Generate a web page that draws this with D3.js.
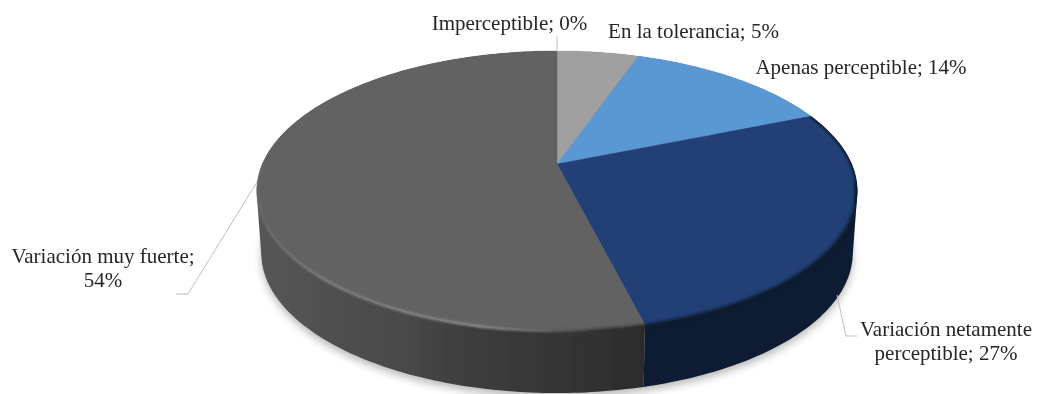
<!DOCTYPE html>
<html><head><meta charset="utf-8">
<script src="https://cdnjs.cloudflare.com/ajax/libs/d3/7.8.5/d3.min.js"></script>
<style>html,body{margin:0;padding:0;background:#fff}svg{display:block}
text{font-family:"Liberation Serif",serif;font-size:21px;fill:#262626}</style></head><body>
<div id="chart"></div>
<script>
const categories = ["Imperceptible","En la tolerancia","Apenas perceptible","Variación netamente perceptible","Variación muy fuerte"];
const values = [0,5.3,13.5,27.3,53.9];
const topColors = ["#7f7f7f","#a0a0a0","#5a98d3","#234175","#626262"];
const sideColors = ["#555","#6b6b6b","#3a6a96","#0d1a30","url(#sideGray)"];
const labelLines = [["Imperceptible; 0%"],["En la tolerancia; 5%"],["Apenas perceptible; 14%"],["Variación netamente","perceptible; 27%"],["Variación muy fuerte;","54%"]];

const W=1038,H=394;
const svg=d3.select("#chart").append("svg").attr("width",W).attr("height",H);
const defs=svg.append("defs");
const blur=(id,s)=>defs.append("filter").attr("id",id).attr("filterUnits","userSpaceOnUse").attr("x",0).attr("y",0).attr("width",W).attr("height",H+20)
  .append("feGaussianBlur").attr("stdDeviation",s);
blur("b1",1);blur("b2",1.6);blur("b5",4);blur("soft",0.4);
const grad=(id,stops,x1,x2)=>{const g=defs.append("linearGradient").attr("id",id).attr("gradientUnits","userSpaceOnUse")
  .attr("x1",x1).attr("x2",x2).attr("y1",0).attr("y2",0);
  stops.forEach(s=>g.append("stop").attr("offset",s[0]).attr("stop-color",s[1]).attr("stop-opacity",s[2]===undefined?1:s[2]));};
grad("sideGray",[[0,"#565656"],[0.35,"#4a4a4a"],[0.55,"#3d3d3d"],[0.8,"#343434"],[1,"#2c2c2c"]],258,646);
grad("rimLight",[[0,"#808080",0.25],[0.2,"#868686",0.8],[0.65,"#8a8a8a",1],[0.85,"#808080",0.6],[1,"#777",0]],257,600);
grad("edgeDark",[[0,"#333",0],[0.55,"#333",0],[0.8,"#333",0.9],[1,"#2c2c2c",1]],257,646);

// perspective projection of the tilted disc
const cx=557,cy=164,R=294.6,Hh=134.8,k=0.193,depth=62,bottomScale=0.985;
const project=a=>{const u=Math.sin(a),v=-Math.cos(a),w=1-k*v;
  return [cx+R*u/w, cy+Hh*v/w];};
const projectBottom=a=>{const p=project(a);return [cx+(p[0]-cx)*bottomScale, p[1]+depth];};
const arcAngles=(a0,a1)=>d3.range(0,1.0001,1/Math.max(2,Math.ceil((a1-a0)*60))).map(t=>a0+(a1-a0)*t);
const line=d3.line().curve(d3.curveLinear);

const pie=d3.pie().sort(null).value(d=>d)(values);

// ground shadow
const all=arcAngles(0,2*Math.PI);
svg.append("path").attr("d",line(all.map(a=>{const p=projectBottom(a);return [p[0],p[1]+4];}))+"Z")
  .attr("fill","#000").attr("opacity",0.28).attr("filter","url(#b5)");

// sides: consistently wound quads in one path, so the silhouette stays convex without seams
const g=svg.append("g").attr("filter","url(#soft)");
pie.forEach((s,i)=>{ if(s.endAngle-s.startAngle<=0) return;
  const as=arcAngles(s.startAngle,s.endAngle);
  const d=d3.pairs(as).map(([a,b])=>{
    const q=[project(a),project(b),projectBottom(b),projectBottom(a)];
    if(d3.polygonArea(q)<0) q.reverse();
    return line(q)+"Z";
  }).join("");
  g.append("path").attr("d",d).attr("fill",sideColors[i]).attr("fill-rule","nonzero");
});
// top faces
pie.forEach((s,i)=>{ if(s.endAngle-s.startAngle<=0) return;
  const as=arcAngles(s.startAngle,s.endAngle);
  g.append("path").attr("d",line([[cx,cy]].concat(as.map(a=>project(a))))+"Z").attr("fill",topColors[i]).attr("stroke",topColors[i]).attr("stroke-width",0.4);
});
// bevel: soft edge between the top face and the side, kept inside the solid's outline
const hull=d3.polygonHull(all.map(a=>project(a)).concat(all.map(projectBottom)));
defs.append("clipPath").attr("id","solidClip").append("path").attr("d",line(hull)+"Z");
const rim=svg.append("g").attr("clip-path","url(#solidClip)");
const rimArc=(a0,a1,color,w,f,dy)=>rim.append("path").attr("d",line(arcAngles(a0,a1).map(a=>{const p=project(a);return [p[0],p[1]+(dy||0)];}))).attr("fill","none")
  .attr("stroke",color).attr("stroke-width",w).attr("filter",f);
rimArc(pie[4].startAngle,4.75,"url(#edgeDark)",4,"url(#b2)",1);
rimArc(pie[4].startAngle,4.75,"url(#rimLight)",2.6,"url(#b1)",0);
// navy rim: dark band along the front, thin dark line on the right
const frontA=pie[3].startAngle;
rimArc(1.7,pie[3].endAngle,"#0d1a30",4,"url(#b2)",1);
defs.append("clipPath").attr("id","navyClip").append("path").attr("d",line([[cx,cy]].concat(arcAngles(frontA,pie[3].endAngle).map(a=>project(a))))+"Z");
svg.append("g").attr("clip-path","url(#navyClip)").append("path").attr("d",line(arcAngles(frontA,1.85).map(a=>project(a)))).attr("fill","none")
  .attr("stroke","#0a1428").attr("stroke-width",3).attr("filter","url(#b1)");

// leader lines
const leader=[[[557,36],[557,50]],null,null,[[837,295],[846,336],[857,336]],[[257,182],[188,294],[176,294]]];
leader.forEach(l=>{if(l) svg.append("path").attr("d",line(l)).attr("fill","none").attr("stroke","#bfbfbf").attr("stroke-width",1);});

// labels
const labelPos=[[509.5,30],[693.5,38],[861,74],[946,336],[103,263]];
labelLines.forEach((ls,i)=>{const t=svg.append("text").attr("text-anchor","middle").attr("filter","url(#soft)");
  ls.forEach((s,j)=>t.append("tspan").attr("x",labelPos[i][0]).attr("y",labelPos[i][1]+j*24).text(s));});
</script></body></html>
